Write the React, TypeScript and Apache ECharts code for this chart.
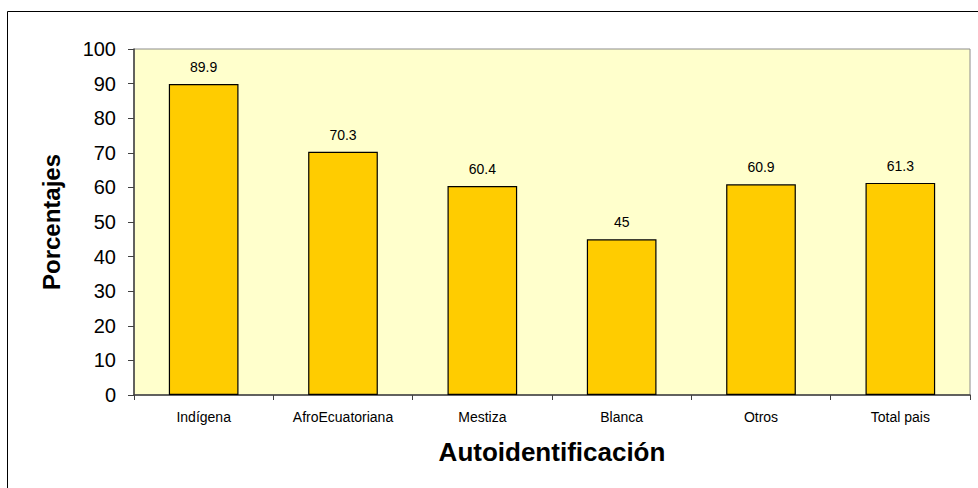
import React, { useEffect, useRef } from "react";
import * as echarts from "echarts";

const categories = ["Indígena", "AfroEcuatoriana", "Mestiza", "Blanca", "Otros", "Total pais"];
const values = [89.9, 70.3, 60.4, 45, 60.9, 61.3];
const valueLabels = ["89.9", "70.3", "60.4", "45", "60.9", "61.3"];

export default function App() {
  const ref = useRef<HTMLDivElement>(null);
  useEffect(() => {
    const chart = echarts.init(ref.current!, null, { renderer: "svg" });
    chart.setOption({
      animation: false,
      textStyle: { fontFamily: "Liberation Sans, Arial, sans-serif" },
      graphic: [
        {
          type: "rect",
          shape: { x: 7.5, y: 11.5, width: 1000, height: 600 },
          style: { fill: "none", stroke: "#000", lineWidth: 1 },
          z: -10,
        },
      ],
      grid: {
        left: 134,
        right: 8,
        top: 49,
        bottom: 93,
        show: true,
        backgroundColor: "#FFFFCC",
        borderColor: "#8c8c8c",
        borderWidth: 1,
      },
      xAxis: {
        type: "category",
        data: categories,
        name: "Autoidentificación",
        nameLocation: "middle",
        nameGap: 44,
        nameTextStyle: { fontSize: 26, fontWeight: "bold", color: "#000" },
        axisLine: { lineStyle: { color: "#404040", width: 1.5 } },
        axisTick: { show: true, length: 5, alignWithLabel: false, lineStyle: { color: "#404040" } },
        axisLabel: { fontSize: 14, color: "#000", margin: 15 },
      },
      yAxis: {
        type: "value",
        min: 0,
        max: 100,
        interval: 10,
        name: "Porcentajes",
        nameLocation: "middle",
        nameGap: 71,
        nameTextStyle: { fontSize: 24, fontWeight: "bold", color: "#000" },
        axisLine: { show: true, lineStyle: { color: "#404040", width: 1.5 } },
        axisTick: { show: true, length: 6, lineStyle: { color: "#404040" } },
        axisLabel: { fontSize: 20, color: "#000", margin: 18 },
        splitLine: { show: false },
      },
      series: [
        {
          type: "bar",
          data: values,
          barCategoryGap: "50%",
          itemStyle: { color: "#FFCC00", borderColor: "#000", borderWidth: 1.2 },
          label: {
            show: true,
            position: "top",
            distance: 10,
            fontSize: 14,
            color: "#000",
            formatter: (p: any) => valueLabels[p.dataIndex],
          },
        },
      ],
    });
    return () => chart.dispose();
  }, []);
  return (
    <div
      ref={ref}
      style={{ position: "fixed", left: 0, top: 0, width: 978, height: 488, background: "#fff" }}
    />
  );
}
